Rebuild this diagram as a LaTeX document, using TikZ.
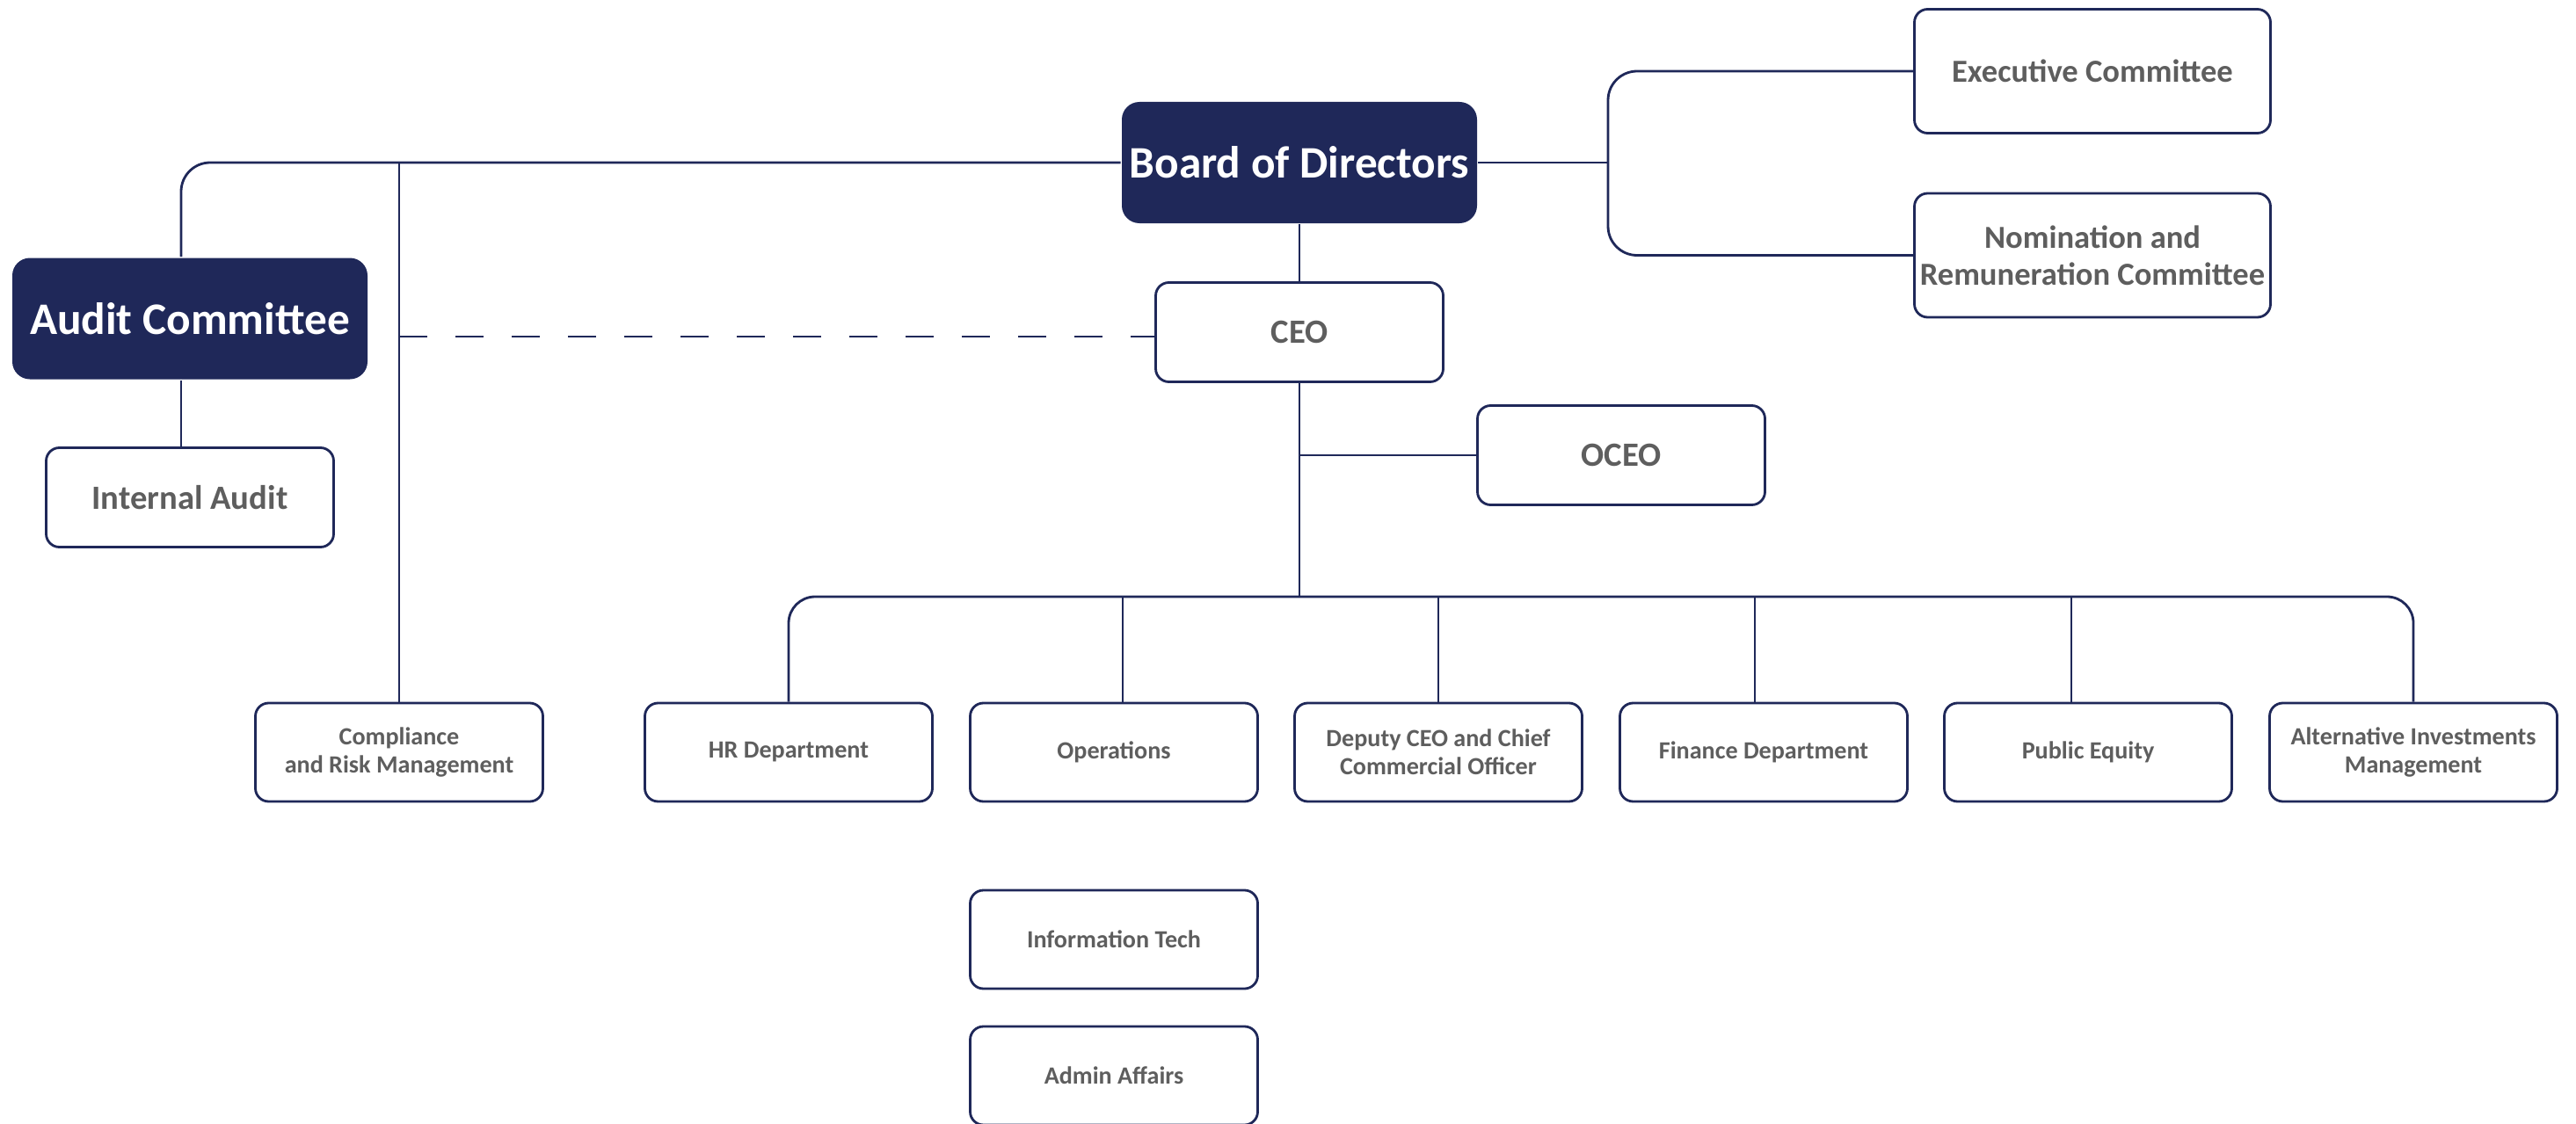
\documentclass[tikz,border=0pt]{standalone}
\usepackage{fontspec}
\setmainfont{Carlito}
\usepackage{tikz}

\definecolor{navy}{HTML}{1F2859}
\definecolor{textgrey}{HTML}{5E5E5E}

\begin{document}
\begin{tikzpicture}[line width=0.8pt,
   dark_style/.style={rounded corners=0.2cm, fill=navy, text=white, inner sep=2pt,
      minimum width=4.04cm, minimum height=1.38cm, font=\bfseries\fontsize{14.6}{17}\selectfont},
   big_style/.style={rounded corners=0.15cm, draw=navy, fill=white, text=textgrey, inner sep=1pt, align=center,
      minimum width=4.05cm, minimum height=1.41cm, font=\bfseries\fontsize{10.4}{12}\selectfont},
   mid_style/.style={rounded corners=0.15cm, draw=navy, fill=white, text=textgrey, inner sep=2pt, align=center,
      minimum width=3.27cm, minimum height=1.13cm, font=\bfseries\fontsize{11}{12}\selectfont},
   box_style/.style={rounded corners=0.15cm, draw=navy, fill=white, text=textgrey, inner sep=2pt, align=center,
      minimum width=3.27cm, minimum height=1.12cm, font=\bfseries\fontsize{8}{9}\selectfont},
   edge_style/.style={draw=navy, line width=0.8pt}]

    \useasboundingbox (0,0) rectangle (29.3,-12.79);

    % top
    \node[dark_style] (board) at (14.78,-1.85) {Board of Directors};
    \node[big_style] (exec) at (23.80,-0.81) {Executive Committee};
    \node[big_style] (nomin) at (23.80,-2.905) {Nomination and\\Remuneration Committee};
    \node[mid_style] (ceo) at (14.78,-3.78) {CEO};
    \node[mid_style] (oceo) at (18.44,-5.18) {OCEO};

    % left side
    \node[dark_style] (audit) at (2.16,-3.625) {Audit Committee};
    \node[mid_style] (intaudit) at (2.16,-5.66) {Internal Audit};
    \node[box_style] (compl) at (4.54,-8.56) {Compliance\\and Risk Management};

    % departments
    \node[box_style] (hr) at (8.97,-8.56) {HR Department};
    \node[box_style] (ops) at (12.67,-8.56) {Operations};
    \node[box_style] (deputy) at (16.36,-8.56) {Deputy CEO and Chief\\Commercial Officer};
    \node[box_style] (finance) at (20.06,-8.56) {Finance Department};
    \node[box_style] (equity) at (23.75,-8.56) {Public Equity};
    \node[box_style] (alt) at (27.45,-8.56) {Alternative Investments\\Management};
    \node[box_style] (infotech) at (12.67,-10.69) {Information Tech};
    \node[box_style] (admin) at (12.67,-12.24) {Admin Affairs};

    \coordinate (bus) at (14.78,-6.79);
    \coordinate (brace) at (18.29,-1.85);

    \draw[edge_style, rounded corners=0.33cm] ([xshift=-0.1cm]audit.north) |- (board.west);
    \draw[edge_style] (compl.north) -- (compl.north |- board.west);
    \draw[edge_style] ([xshift=-0.1cm]audit.south) -- ([xshift=-0.1cm]intaudit.north);
    \draw[edge_style, dash pattern=on 0.32cm off 0.32cm] ([yshift=-0.05cm]ceo.west -| compl.north) -- ([yshift=-0.05cm]ceo.west);

    \draw[edge_style] (board.east) -- (brace);
    \draw[edge_style, rounded corners=0.33cm] (exec.west) -| (brace) |- (nomin.west);
    \draw[edge_style] (board.south) -- (ceo.north);
    \draw[edge_style] (ceo.south) -- (bus);
    \draw[edge_style] (oceo.west) -- (oceo.west -| ceo.south);

    \draw[edge_style, rounded corners=0.3cm] (hr.north) |- (alt.north |- bus) -- (alt.north);
    \draw[edge_style] ([xshift=0.1cm]ops.north) -- ([xshift=0.1cm]ops.north |- bus);
    \draw[edge_style] (deputy.north) -- (deputy.north |- bus);
    \draw[edge_style] ([xshift=-0.1cm]finance.north) -- ([xshift=-0.1cm]finance.north |- bus);
    \draw[edge_style] ([xshift=-0.19cm]equity.north) -- ([xshift=-0.19cm]equity.north |- bus);
\end{tikzpicture}
\end{document}
